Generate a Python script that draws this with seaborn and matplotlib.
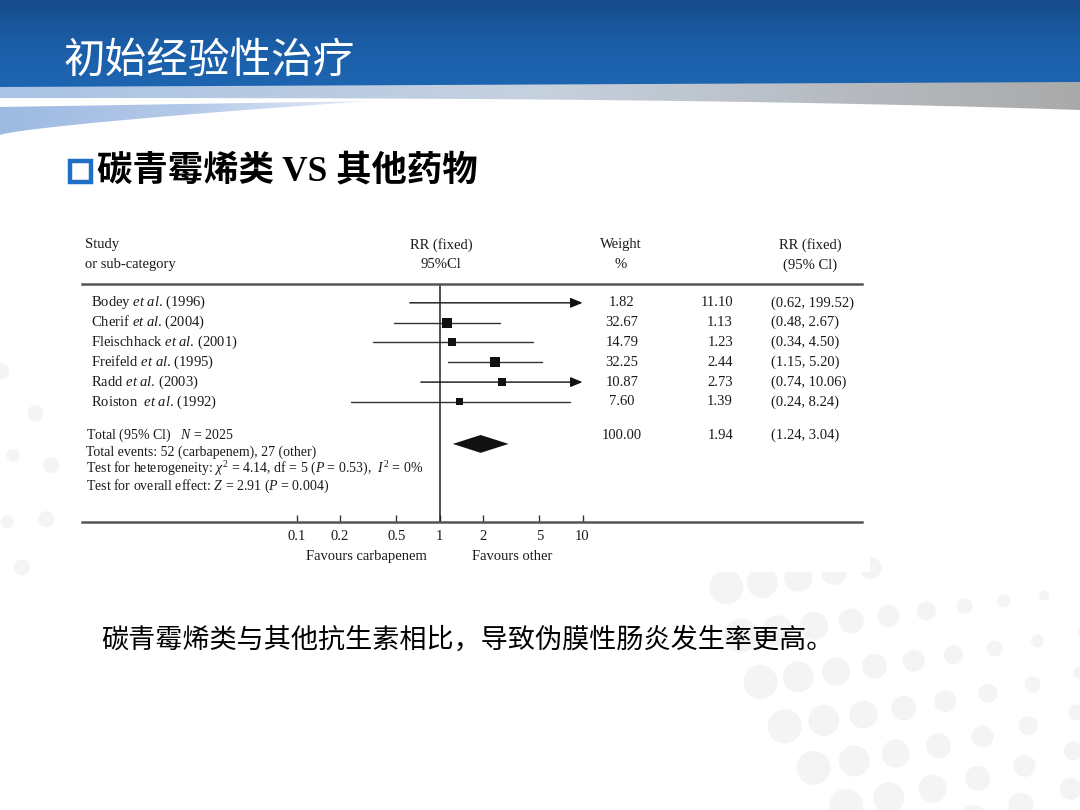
import numpy as np
import pandas as pd
import matplotlib
matplotlib.use("Agg")
import matplotlib.pyplot as plt
from matplotlib.patches import Polygon, Rectangle, Circle
from matplotlib.colors import LinearSegmentedColormap
from matplotlib.ticker import NullLocator
import seaborn as sns

# Forest plot data
studies = ["Bodey", "Cherif", "Fleischhack", "Freifeld", "Radd", "Roiston "]
years = [1996, 2004, 2001, 1995, 2003, 1992]
weights = [1.82, 32.67, 14.79, 32.25, 10.87, 7.60]
rr = [11.10, 1.13, 1.23, 2.44, 2.73, 1.39]
ci_low = [0.62, 0.48, 0.34, 1.15, 0.74, 0.24]
ci_high = [199.52, 2.67, 4.50, 5.20, 10.06, 8.24]

total_rr = 1.94
total_ci = [1.24, 3.04]
total_weight = 100.00
total_n = 2025
events_carbapenem = 52
events_other = 27
chi2, df_het, p_het, i2 = 4.14, 5, 0.53, 0
z_overall, p_overall = 2.91, 0.004

ticks = [0.1, 0.2, 0.5, 1, 2, 5, 10]
tick_labels = ["0.1", "0.2", "0.5", "1", "2", "5", "10"]

title = "初始经验性治疗"
subtitle = "碳青霉烯类 VS 其他药物"
conclusion = "碳青霉烯类与其他抗生素相比，导致伪膜性肠炎发生率更高。"

df = pd.DataFrame({"study": studies, "year": years, "weight": weights,
                   "rr": rr, "lo": ci_low, "hi": ci_high})
df["row"] = np.arange(len(df))

sns.set_theme(style="white")
plt.rcParams["font.family"] = ["Liberation Serif", "DejaVu Serif"]
plt.rcParams["mathtext.fontset"] = "custom"
plt.rcParams["mathtext.rm"] = "Liberation Serif"
plt.rcParams["mathtext.it"] = "Liberation Serif:italic"
plt.rcParams["mathtext.bf"] = "Liberation Serif:bold"

fig = plt.figure(figsize=(10.8, 8.1), dpi=100)
fig.patch.set_facecolor("white")

# background slide in pixel coordinates
bg = fig.add_axes([0, 0, 1, 1])
bg.axis("off")

# very faint dot pattern
dot_color = "#f4f4f4"
for cx, cy, r0, r1, a0, a1, base in [(1200, 470, 200, 500, 95, 172, 5),
                                     (-90, 480, 70, 170, -50, 60, 5)]:
    for r in np.arange(r0, r1, 36):
        n = max(int(r * np.radians(a1 - a0) / 44), 2)
        for a in np.linspace(np.radians(a0), np.radians(a1), n):
            px, py = cx + r * np.cos(a), cy + r * np.sin(a)
            if cx > 0 and py < 568:
                continue
            rad = base + (r - r0) / 24
            bg.add_patch(Circle((px, py), rad, color=dot_color, lw=0, zorder=0))

# blue header band
band_cmap = LinearSegmentedColormap.from_list("band", ["#174c8c", "#1b5ea8", "#1e66b2"])
bg.imshow(np.linspace(0, 1, 100).reshape(-1, 1), extent=(0, 1080, 92, 0),
          cmap=band_cmap, aspect="auto", zorder=1)

# light strip under the band
xs = np.linspace(0, 1080, 200)
strip = Polygon(np.vstack([np.column_stack([xs, 87 - 5 * xs / 1080]),
                           np.column_stack([xs[::-1], 98 + 12 * (xs[::-1] / 1080) ** 3])]),
                transform=bg.transData, fc="none", ec="none")
bg.add_patch(strip)
strip_cmap = LinearSegmentedColormap.from_list("strip", ["#a9c3e5", "#c6d1de", "#aaaaaa"])
im = bg.imshow(np.linspace(0, 1, 256).reshape(1, -1), extent=(0, 1080, 115, 78),
               cmap=strip_cmap, aspect="auto", zorder=2)
im.set_clip_path(strip)

# light blue wedge on the left
xw = np.linspace(0, 370, 100)
wedge = Polygon(np.vstack([np.column_stack([xw, 107 - 6 * xw / 370]),
                           np.column_stack([xw[::-1], 135 - 34 * (xw[::-1] / 370) ** 0.75])]),
                transform=bg.transData, fc="none", ec="none")
bg.add_patch(wedge)
wedge_cmap = LinearSegmentedColormap.from_list("wedge", ["#9dbae2", "#b4c9e9", "#e4ecf7"])
im2 = bg.imshow(np.linspace(0, 1, 256).reshape(1, -1), extent=(0, 370, 140, 95),
                cmap=wedge_cmap, aspect="auto", zorder=2)
im2.set_clip_path(wedge)

# white panel of the forest plot image
bg.add_patch(Rectangle((72, 228), 798, 344, fc="white", ec="none", zorder=3))
# blue bullet square
bg.add_patch(Rectangle((69.5, 161), 21, 21, fc="white", ec="#1f6fc6", lw=3.2, zorder=4))

bg.set_xlim(0, 1080)
bg.set_ylim(810, 0)

fig.text(64 / 1080, 1 - 61 / 810, title, color="white", fontsize=30,
         va="center", ha="left", family=["Noto Sans CJK SC"])
fig.text(97 / 1080, 1 - 172 / 810, subtitle, color="black", fontsize=25.5,
         va="center", ha="left", weight="bold",
         family=["Liberation Serif", "Noto Sans CJK SC"])
fig.text(101 / 1080, 1 - 640 / 810, conclusion, color="black", fontsize=19.5,
         va="center", ha="left", family=["Noto Sans CJK SC"])

# forest plot axes
ax = fig.add_axes([82 / 1080, 1 - 522 / 810, 780 / 1080, 238 / 810])
ax.set_facecolor("none")
ax.set_xscale("log")

ink = "#1a1a1a"
line_c = "#333333"

for _, row in df.iterrows():
    lo = max(row["lo"], 0.1)
    if row["hi"] > 10:
        ax.annotate("", xy=(10, row["row"]), xytext=(lo, row["row"]),
                    arrowprops=dict(arrowstyle="-|>,head_length=0.6,head_width=0.25",
                                    color="#111111", lw=1, shrinkA=0, shrinkB=0))
    else:
        ax.plot([lo, row["hi"]], [row["row"], row["row"]], color=line_c, lw=1)

shown = df[df["rr"] <= 10]
sns.scatterplot(data=shown, x="rr", y="row", size="weight", sizes=(18.8, 52),
                size_norm=(min(weights), max(weights)), marker="s", color="#111111",
                edgecolor="#111111", linewidth=0, legend=False, ax=ax, zorder=5)

# pooled estimate diamond
y_dia = 7.12
ax.fill([total_ci[0], total_rr, total_ci[1], total_rr],
        [y_dia, y_dia - 0.45, y_dia, y_dia + 0.45], color="#111111", lw=0, zorder=5)

ax.axvline(1, color="#222222", lw=1.1, zorder=2)

ax.set_xlim(10 ** ((82 - 439.5) / 143), 10 ** ((862 - 439.5) / 143))
ax.set_ylim(11.06, -0.95)
ax.set_xlabel("")
ax.set_ylabel("")
ax.set_xticks(ticks)
ax.set_xticklabels(tick_labels)
ax.xaxis.set_minor_locator(NullLocator())
ax.set_yticks([])
ax.tick_params(axis="x", direction="in", length=5, width=1, color=line_c,
               pad=6, labelsize=10.5, labelcolor=ink, bottom=True, top=False)
for side in ["left", "right"]:
    ax.spines[side].set_visible(False)
for side in ["top", "bottom"]:
    ax.spines[side].set_color("#555555")
    ax.spines[side].set_linewidth(1.8)

tr = ax.get_yaxis_transform()


def col(px):
    return (px - 82) / 780


def put(px, y, s, ha="left", size=10.5):
    ax.text(col(px), y, s, transform=tr, ha=ha, va="center", fontsize=size,
            color=ink, clip_on=False)


# column headers
put(85, -2.93, "Study")
put(85, -1.92, "or sub-category")
put(441, -2.93, "RR (fixed)", "center")
put(441, -1.92, "95%Cl", "center")
put(621, -2.93, "Weight", "center")
put(621, -1.92, "%", "center")
put(810, -2.93, "RR (fixed)", "center")
put(810, -1.92, "(95% Cl)", "center")

for _, row in df.iterrows():
    y = row["row"]
    put(91, y, f"{row['study']} $\\mathit{{et\\ al}}$. ({row['year']})")
    put(622, y, f"{row['weight']:.2f}", "center")
    put(733, y, f"{row['rr']:.2f}", "right")
    put(771, y, f"({row['lo']:.2f}, {row['hi']:.2f})")

put(86, 6.7, f"Total (95% Cl)   $N$ = {total_n}", size=10)
put(622, 6.7, f"{total_weight:.2f}", "center")
put(733, 6.7, f"{total_rr:.2f}", "right")
put(771, 6.7, f"({total_ci[0]:.2f}, {total_ci[1]:.2f})")
put(86, 7.55, f"Total events: {events_carbapenem} (carbapenem), {events_other} (other)", size=10)
put(86, 8.4, f"Test for heterogeneity: $\\chi^2$ = {chi2:.2f}, df = {df_het} "
             f"($P$ = {p_het:.2f}),  $I^2$ = {i2}%", size=10)
put(86, 9.25, f"Test for overall effect: $Z$ = {z_overall:.2f} ($P$ = {p_overall})", size=10)

put(427, 12.78, "Favours carbapenem", "right")
put(472, 12.78, "Favours other", "left")

fig.savefig("out.png", dpi=100)
